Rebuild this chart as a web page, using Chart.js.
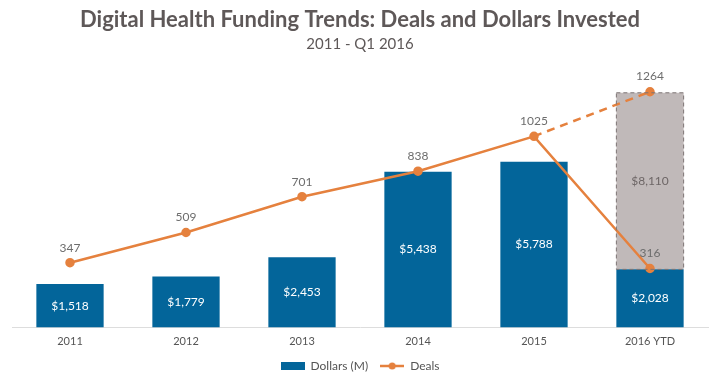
<!DOCTYPE html>
<html>
<head>
<meta charset="utf-8">
<script src="https://cdn.jsdelivr.net/npm/chart.js@4"></script>
<style>
  html, body { margin: 0; padding: 0; background: #fff; }
  #wrap { width: 720px; height: 382px; }
</style>
</head>
<body>
<div id="wrap"><canvas id="fundingChart"></canvas></div>
<script>
const years = ['2011', '2012', '2013', '2014', '2015', '2016 YTD'];
const dollars = [1518, 1779, 2453, 5438, 5788, 2028];
// grey projection segment for 2016 (height as drawn, label as printed)
const projected = [null, null, null, null, null, 6170];
const projectedLabels = [null, null, null, null, null, '$8,110'];
const deals = [347, 509, 701, 838, 1025, 316];
const dealsProjected = [null, null, null, null, 1025, 1264];

const BLUE = '#03659a';
const ORANGE = '#e5813e';
const GREY = '#c0b9b9';
const TEXT = '#5e5858';

function makeIcon(w, h, draw) {
    const c = document.createElement('canvas');
    c.width = w; c.height = h;
    draw(c.getContext('2d'));
    return c;
}
const boxIcon = makeIcon(24, 8, g => { g.fillStyle = BLUE; g.fillRect(0, 0, 24, 8); });
const lineIcon = makeIcon(24, 8, g => {
    g.strokeStyle = ORANGE; g.lineWidth = 2.5;
    g.beginPath(); g.moveTo(0, 4); g.lineTo(24, 4); g.stroke();
    g.fillStyle = ORANGE; g.beginPath(); g.arc(12, 4, 3.5, 0, Math.PI * 2); g.fill();
});

// draws the value labels and the dashed outline of the projected bar
const valueLabels = {
    id: 'valueLabels',
    afterDatasetsDraw(chart) {
        const ctx = chart.ctx;
        ctx.save();
        ctx.textAlign = 'center';
        ctx.textBaseline = 'middle';
        ctx.font = '12px Lato';

        const proj = chart.getDatasetMeta(1).data;
        proj.forEach((bar, i) => {
            if (projected[i] == null) return;
            const p = bar.getProps(['x', 'y', 'base', 'width'], true);
            ctx.strokeStyle = '#7d7474';
            ctx.lineWidth = 1;
            ctx.setLineDash([4, 3]);
            ctx.strokeRect(p.x - p.width / 2, p.y, p.width, p.base - p.y);
            ctx.setLineDash([]);
            ctx.fillStyle = '#6d6666';
            ctx.fillText(projectedLabels[i], p.x, (p.y + p.base) / 2);
        });

        chart.getDatasetMeta(0).data.forEach((bar, i) => {
            const p = bar.getProps(['x', 'y', 'base'], true);
            ctx.fillStyle = '#ffffff';
            ctx.fillText('$' + dollars[i].toLocaleString('en-US'), p.x, (p.y + p.base) / 2);
        });

        ctx.fillStyle = '#6d6d6d';
        chart.getDatasetMeta(2).data.forEach((pt, i) => {
            ctx.fillText(String(deals[i]), pt.x, pt.y - 15);
        });
        const last = chart.getDatasetMeta(3).data[5];
        ctx.fillText(String(dealsProjected[5]), last.x, last.y - 16);
        ctx.restore();
    }
};

new Chart(document.getElementById('fundingChart'), {
    type: 'bar',
    data: {
        labels: years,
        datasets: [
            {
                label: 'Dollars (M)',
                data: dollars,
                backgroundColor: BLUE,
                yAxisID: 'y',
                stack: 'd',
                order: 2,
                barPercentage: 0.58,
                categoryPercentage: 1
            },
            {
                label: 'Projected',
                data: projected,
                backgroundColor: GREY,
                yAxisID: 'y',
                stack: 'd',
                order: 3,
                barPercentage: 0.58,
                categoryPercentage: 1
            },
            {
                type: 'line',
                label: 'Deals',
                data: deals,
                borderColor: ORANGE,
                backgroundColor: ORANGE,
                borderWidth: 2.5,
                pointRadius: 3.5,
                pointHoverRadius: 3.5,
                yAxisID: 'y2',
                order: 0
            },
            {
                type: 'line',
                label: 'Deals projected',
                data: dealsProjected,
                borderColor: ORANGE,
                backgroundColor: ORANGE,
                borderWidth: 2.5,
                borderDash: [8, 6],
                pointRadius: [0, 0, 0, 0, 0, 3.5],
                yAxisID: 'y2',
                order: 1
            }
        ]
    },
    options: {
        responsive: true,
        maintainAspectRatio: false,
        animation: false,
        layout: { padding: { left: 12, right: 12, bottom: 0 } },
        scales: {
            x: {
                stacked: true,
                grid: { display: false },
                border: { display: true, color: '#dddddd', width: 1 },
                ticks: { color: '#555555', font: { family: 'Lato', size: 11, lineHeight: 1.4 }, padding: -1.4 }
            },
            y: {
                display: false,
                stacked: true,
                min: 0,
                max: 9120
            },
            y2: {
                display: false,
                min: 0,
                max: 1400
            }
        },
        plugins: {
            title: {
                display: true,
                text: 'Digital Health Funding Trends: Deals and Dollars Invested',
                color: TEXT,
                font: { family: 'Lato', size: 22, weight: 'bold' },
                padding: { top: 7, bottom: 0 }
            },
            subtitle: {
                display: true,
                text: '2011 - Q1 2016',
                color: TEXT,
                font: { family: 'Lato', size: 15 },
                padding: { top: 2, bottom: 13 }
            },
            legend: {
                position: 'bottom',
                labels: {
                    usePointStyle: true,
                    pointStyleWidth: 24,
                    boxHeight: 8,
                    color: '#555555',
                    font: { family: 'Lato', size: 12 },
                    padding: 12,
                    generateLabels: () => [
                        { text: 'Dollars (M)', pointStyle: boxIcon, fontColor: '#555555', hidden: false, datasetIndex: 0, lineWidth: 0, strokeStyle: 'rgba(0,0,0,0)' },
                        { text: 'Deals', pointStyle: lineIcon, fontColor: '#555555', hidden: false, datasetIndex: 2, lineWidth: 0, strokeStyle: 'rgba(0,0,0,0)' }
                    ]
                }
            },
            tooltip: { enabled: false }
        }
    },
    plugins: [valueLabels]
});
</script>
</body>
</html>
